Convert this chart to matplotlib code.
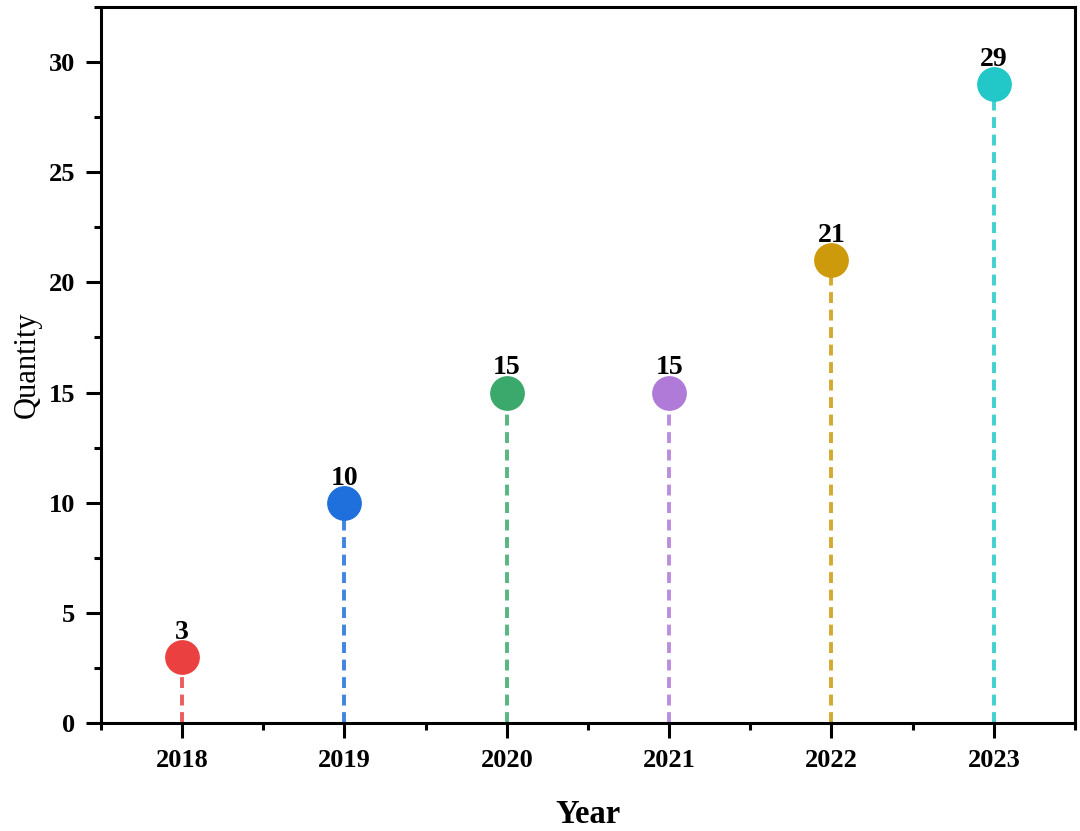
import matplotlib.pyplot as plt
import numpy as np
from matplotlib.ticker import MultipleLocator

years = [2018, 2019, 2020, 2021, 2022, 2023]
quantity = [3, 10, 15, 15, 21, 29]
colors = ["#eb4040", "#1f6fdc", "#3aa96b", "#b07ad8", "#cc9a0a", "#22c8c8"]

plt.rcParams['font.family'] = ['Liberation Serif', 'DejaVu Serif']

fig = plt.figure(figsize=(10.8, 8.31), dpi=100)
ax = fig.add_axes([101 / 1080, 108 / 831, 974 / 1080, 716 / 831])

for x, y, c in zip(years, quantity, colors):
    # dashed stem, a bit lighter than the dot
    ax.plot([x, x], [0, y], linestyle=(0, (2.8, 1.7)), color=c, lw=2.8,
            alpha=0.85, zorder=2)
    ax.plot(x, y, 'o', color=c, markersize=24, zorder=3)
    ax.text(x, y + 0.55, str(y), ha='center', va='bottom',
            fontsize=20, fontweight='bold', zorder=4)

ax.set_xlim(2017.5, 2023.5)
ax.set_ylim(0, 32.5)
ax.set_xticks(years)
ax.xaxis.set_minor_locator(MultipleLocator(0.5))
ax.yaxis.set_major_locator(MultipleLocator(5))
ax.yaxis.set_minor_locator(MultipleLocator(2.5))

for s in ax.spines.values():
    s.set_linewidth(2.2)
ax.tick_params(which='major', direction='out', length=10.5, width=2.2, labelsize=19, pad=8)
ax.tick_params(which='minor', direction='out', length=5, width=2.2)
for lab in ax.get_xticklabels() + ax.get_yticklabels():
    lab.set_fontweight('bold')

ax.set_xlabel('Year', fontsize=23.5, fontweight='bold', labelpad=20)
ax.set_ylabel('Quantity', fontsize=22, labelpad=5)

fig.savefig('out.png', dpi=100)
